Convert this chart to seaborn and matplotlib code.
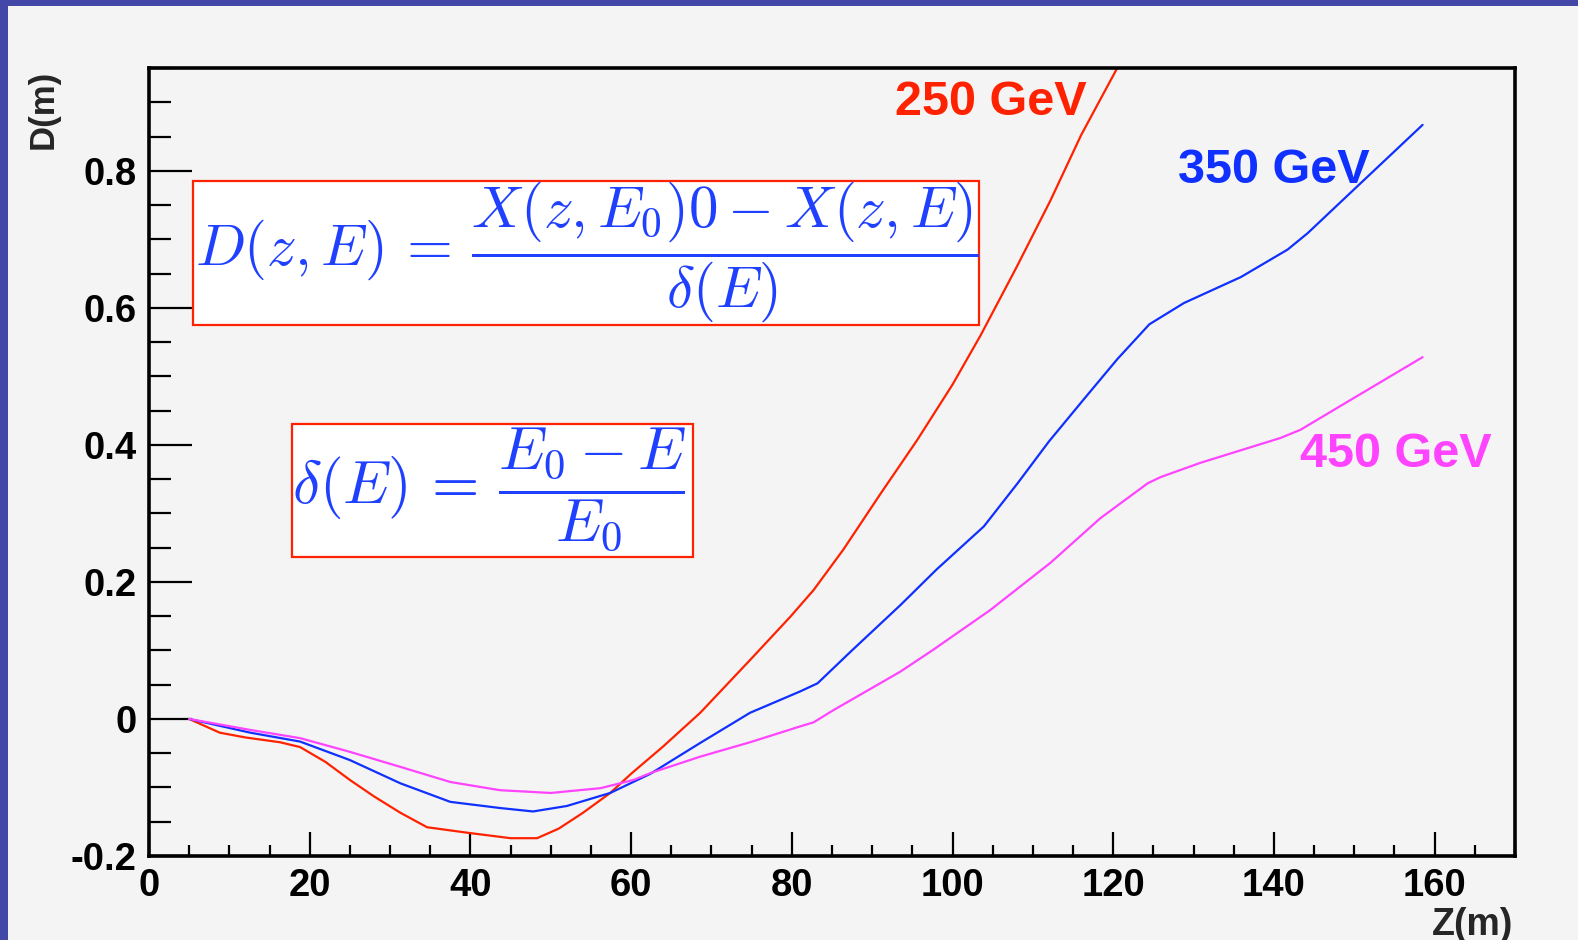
import numpy as np
import pandas as pd
import matplotlib
matplotlib.use("Agg")
import matplotlib.pyplot as plt
from matplotlib.patches import Rectangle
from matplotlib.ticker import MultipleLocator, FixedLocator, FixedFormatter
import seaborn as sns

# ---- data: beam offset D versus position z for three energies ----
z_250 = [5, 8.8, 12, 16.3, 18.8, 22, 25, 28, 31.3, 34.6, 39.6, 45, 48.3, 51, 54,
         57.4, 60, 64, 68.6, 74.8, 79.8, 82.7, 86.4, 91, 95.6, 100, 103.5, 108,
         112.2, 116, 120.5, 123]
d_250 = [0, -0.020, -0.027, -0.034, -0.041, -0.063, -0.089, -0.113, -0.137, -0.158,
         -0.166, -0.174, -0.174, -0.160, -0.137, -0.108, -0.080, -0.040, 0.009,
         0.086, 0.149, 0.188, 0.247, 0.328, 0.407, 0.488, 0.560, 0.660, 0.757,
         0.852, 0.950, 1.005]

z_350 = [5, 12.6, 18.8, 25, 31.3, 37.5, 43.7, 47.8, 52, 57.4, 62.4, 68.6, 74.8,
         81, 83.2, 87.3, 93.5, 98, 103.9, 108.1, 112, 116.3, 120.5, 124.5, 128.8,
         135.9, 141.7, 144.2, 150.8, 158.5]
d_350 = [0, -0.020, -0.033, -0.060, -0.094, -0.121, -0.130, -0.135, -0.127, -0.108,
         -0.080, -0.035, 0.009, 0.040, 0.052, 0.098, 0.166, 0.218, 0.281, 0.344,
         0.405, 0.466, 0.525, 0.576, 0.607, 0.645, 0.685, 0.709, 0.782, 0.867]

z_450 = [5, 12.6, 18.8, 25, 31.3, 37.5, 43.7, 50, 56.2, 60.3, 62.4, 68.6, 74.8,
         81, 82.7, 85.2, 93.5, 97.6, 104.7, 112.2, 118.4, 124.3, 125.9, 130.9,
         140.8, 143.3, 149.6, 158.5]
d_450 = [0, -0.016, -0.028, -0.048, -0.070, -0.092, -0.104, -0.108, -0.101, -0.089,
         -0.079, -0.055, -0.034, -0.011, -0.005, 0.013, 0.069, 0.101, 0.159, 0.228,
         0.293, 0.344, 0.353, 0.374, 0.410, 0.422, 0.466, 0.528]

energies = ["250 GeV", "350 GeV", "450 GeV"]
colors = ["#ff2200", "#1030ff", "#ff44ff"]

x_ticks = [0, 20, 40, 60, 80, 100, 120, 140, 160]
x_tick_labels = ["0", "20", "40", "60", "80", "100", "120", "140", "160"]
y_ticks = [-0.2, 0, 0.2, 0.4, 0.6, 0.8]
y_tick_labels = ["-0.2", "0", "0.2", "0.4", "0.6", "0.8"]

frames = []
for name, zs, ds in zip(energies, [z_250, z_350, z_450], [d_250, d_350, d_450]):
    frames.append(pd.DataFrame({"z": zs, "D": ds, "energy": name}))
df = pd.concat(frames, ignore_index=True)

# ---- styling ----
sns.set_style("ticks")
plt.rcParams["font.family"] = ["Liberation Sans", "DejaVu Sans"]
plt.rcParams["font.weight"] = "bold"
plt.rcParams["axes.unicode_minus"] = False
plt.rcParams["mathtext.fontset"] = "cm"

W, H = 1578, 940
bg = "#f4f4f4"
fig = plt.figure(figsize=(W / 100, H / 100), dpi=100, facecolor=bg)


def fx(px):
    return px / W


def fy(py):
    return 1 - py / H


# frame edge bands
fig.patches.append(Rectangle((0, 0), fx(8), 1, transform=fig.transFigure,
                             facecolor="#4347a8", edgecolor="none", zorder=0))
fig.patches.append(Rectangle((0, fy(6)), 1, 6 / H, transform=fig.transFigure,
                             facecolor="#4347a8", edgecolor="none", zorder=0))

ax = fig.add_axes([fx(149), fy(856), fx(1515) - fx(149), fy(68) - fy(856)])
ax.set_facecolor(bg)

sns.lineplot(data=df, x="z", y="D", hue="energy", palette=dict(zip(energies, colors)),
             estimator=None, sort=False, linewidth=1.6, legend=False, ax=ax)

ax.set_xlim(0, 170)
ax.set_ylim(-0.2, 0.95)

ax.xaxis.set_major_locator(FixedLocator(x_ticks))
ax.xaxis.set_major_formatter(FixedFormatter(x_tick_labels))
ax.yaxis.set_major_locator(FixedLocator(y_ticks))
ax.yaxis.set_major_formatter(FixedFormatter(y_tick_labels))
ax.xaxis.set_minor_locator(MultipleLocator(5))
ax.yaxis.set_minor_locator(MultipleLocator(0.05))

ax.tick_params(axis="both", which="both", direction="in", colors="black",
               labelsize=27.5, top=False, right=False)
ax.tick_params(axis="y", which="major", length=31, width=1.6, pad=9)
ax.tick_params(axis="y", which="minor", length=16, width=1.6)
ax.tick_params(axis="x", which="major", length=17, width=1.6, pad=9)
ax.tick_params(axis="x", which="minor", length=8, width=1.6)
for lab in ax.get_xticklabels() + ax.get_yticklabels():
    lab.set_fontweight("bold")

for sp in ax.spines.values():
    sp.set_visible(True)
    sp.set_linewidth(2.6)
    sp.set_color("black")

ax.set_xlabel("")
ax.set_ylabel("")
fig.text(fx(1513), fy(935), "Z(m)", ha="right", va="baseline",
         fontsize=27, fontweight="bold")
fig.text(fx(43), fy(109), "D(m)", ha="center", va="center", rotation=90,
         fontsize=25, fontweight="bold")

# energy labels next to their curves
ax.text(92.8, 0.882, "250 GeV", color=colors[0], fontsize=35, fontweight="bold",
        ha="left", va="baseline")
ax.text(128.0, 0.7825, "350 GeV", color=colors[1], fontsize=35, fontweight="bold",
        ha="left", va="baseline")
ax.text(143.3, 0.368, "450 GeV", color=colors[2], fontsize=35, fontweight="bold",
        ha="left", va="baseline")

# formula boxes
formula_color = "#2040ff"
for (x0, y0, x1, y1) in [(193, 181, 979, 325), (292, 424, 693, 557)]:
    fig.patches.append(Rectangle((fx(x0), fy(y1)), fx(x1) - fx(x0), fy(y0) - fy(y1),
                                 transform=fig.transFigure, facecolor="white",
                                 edgecolor="#ff2200", linewidth=1.6, zorder=3))

fig.text(fx(587), fy(252),
         r"$D(z,E)\,=\,\dfrac{X(z,E_0)0-X(z,E)}{\delta(E)}$",
         ha="center", va="center", fontsize=42.5, color=formula_color, zorder=4)
fig.text(fx(489), fy(489),
         r"$\delta(E)\,=\,\dfrac{E_0-E}{E_0}$",
         ha="center", va="center", fontsize=44, color=formula_color, zorder=4)

fig.savefig("out.png", dpi=100, facecolor=bg)
